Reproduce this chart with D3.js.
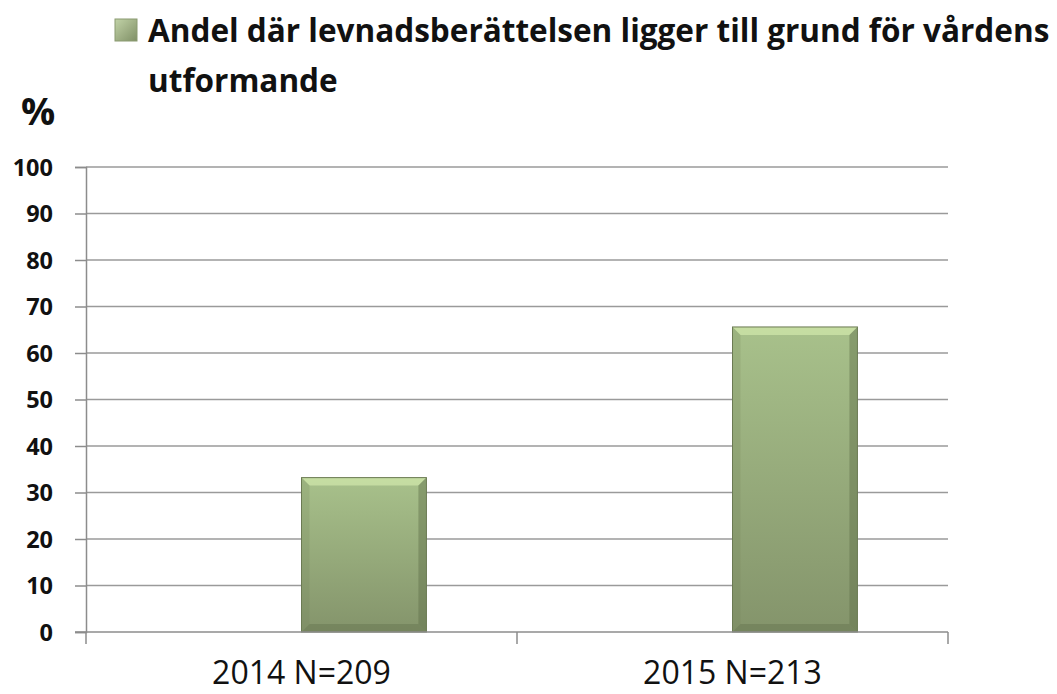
<!DOCTYPE html>
<html><head><meta charset="utf-8">
<script src="https://cdn.jsdelivr.net/npm/d3@7"></script>
<style>body{margin:0;background:#fff}svg{display:block}</style>
</head><body>
<svg id="c" width="1057" height="694"></svg>
<script>
const categories = ["2014 N=209", "2015 N=213"];
const values = [33.2, 65.6];
const seriesName = "Andel där levnadsberättelsen ligger till grund för vårdens utformande";
const legendLines = ["Andel där levnadsberättelsen ligger till grund för vårdens", "utformande"];
const yTicks = [0,10,20,30,40,50,60,70,80,90,100];
const yUnit = "%";

(function(){
const svg = d3.select("#c");
const mL = 86, mR = 948, mT = 167, mB = 632;

const x = d3.scaleBand().domain(categories).range([mL, mR]).padding(0);
const y = d3.scaleLinear().domain([0, 100]).range([mB, mT]);
// clustered slot: hidden first series + visible second series
const slot = d3.scaleBand().domain(["hidden", "shown"]).range([0, x.bandwidth()]).paddingInner(0).paddingOuter(0.725);

const defs = svg.append("defs");
const g1 = defs.append("linearGradient").attr("id","barg").attr("x1",0).attr("y1",0).attr("x2",0).attr("y2",1);
g1.append("stop").attr("offset","0%").attr("stop-color","#a8c18b");
g1.append("stop").attr("offset","100%").attr("stop-color","#84946b");
const g2 = defs.append("linearGradient").attr("id","legg").attr("x1",0).attr("y1",0).attr("x2",1).attr("y2",1);
g2.append("stop").attr("offset","0%").attr("stop-color","#c2d3a8");
g2.append("stop").attr("offset","100%").attr("stop-color","#7f8f66");

// grid
svg.append("g").selectAll("line").data(yTicks.filter(d=>d>0)).join("line")
  .attr("x1", mL).attr("x2", mR).attr("y1", d=>y(d)).attr("y2", d=>y(d))
  .attr("stroke", "#9a9a9a").attr("stroke-width", 1.5);

// y axis
const ya = svg.append("g").attr("transform", `translate(${mL},0)`)
  .call(d3.axisLeft(y).tickValues(yTicks).tickSize(11).tickPadding(22));
ya.select(".domain").attr("stroke", "#8c8c8c").attr("stroke-width", 1.5);
ya.selectAll(".tick line").attr("stroke", "#8c8c8c").attr("stroke-width", 1.5);
ya.selectAll(".tick text").attr("font-family", "'Open Sans', sans-serif").attr("font-weight", "bold")
  .attr("font-size", 23.5).attr("fill", "#111").attr("dy", "0.36em");

// bars
const bars = svg.append("g").selectAll("g").data(categories).join("g");
bars.each(function(c, i){
  const gx = x(c) + slot("shown"), w = slot.bandwidth();
  const yt = y(values[i]), h = y(0) - yt;
  const g = d3.select(this);
  g.append("rect").attr("x", gx).attr("y", yt).attr("width", w).attr("height", h).attr("fill", "url(#barg)");
  const b = 8;
  g.append("polygon").attr("points", `${gx},${yt} ${gx+w},${yt} ${gx+w-b},${yt+b} ${gx+b},${yt+b}`).attr("fill", "#cde4a8").attr("opacity", 0.8);
  g.append("polygon").attr("points", `${gx+w},${yt} ${gx+w},${yt+h} ${gx+w-b},${yt+h-b} ${gx+w-b},${yt+b}`).attr("fill", "#5f6e4a").attr("opacity", 0.45);
  g.append("polygon").attr("points", `${gx},${yt} ${gx+b},${yt+b} ${gx+b},${yt+h-b} ${gx},${yt+h}`).attr("fill", "#6f7f56").attr("opacity", 0.2);
  g.append("polygon").attr("points", `${gx},${yt+h} ${gx+b},${yt+h-b} ${gx+w-b},${yt+h-b} ${gx+w},${yt+h}`).attr("fill", "#5f6e4a").attr("opacity", 0.4);
  g.append("rect").attr("x", gx).attr("y", yt).attr("width", w).attr("height", h).attr("fill", "none").attr("stroke", "#6b7a53").attr("stroke-width", 1);
});

// x axis
const xa = svg.append("g").attr("transform", `translate(0,${mB})`);
xa.append("line").attr("x1", mL - 11).attr("x2", mR).attr("y1", 0).attr("y2", 0).attr("stroke", "#8c8c8c").attr("stroke-width", 1.5);
const xticks = [mL].concat(categories.map(c => x(c) + x.bandwidth()));
xa.selectAll(".xt").data(xticks).join("line").attr("class","xt")
  .attr("x1", d=>d).attr("x2", d=>d).attr("y1", 0).attr("y2", 12).attr("stroke", "#8c8c8c").attr("stroke-width", 1.5);
xa.selectAll("text").data(categories).join("text")
  .attr("x", d => x(d) + x.bandwidth()/2).attr("y", 52)
  .attr("text-anchor", "middle").attr("font-family", "'Open Sans', sans-serif")
  .attr("font-size", 32).attr("fill", "#111").text(d => d);

// unit label
svg.append("text").attr("x", 21).attr("y", 125).attr("font-family", "'Open Sans', sans-serif")
  .attr("font-weight", "bold").attr("font-size", 38).attr("fill", "#111").text(yUnit);

// legend
svg.append("rect").attr("x", 115).attr("y", 19).attr("width", 22).attr("height", 22)
  .attr("fill", "url(#legg)").attr("stroke", "#8a9a70").attr("stroke-width", 1);
const lt = svg.append("g").attr("font-family", "'Open Sans', sans-serif").attr("font-weight", "bold").attr("fill", "#111");
const l1 = lt.append("text").attr("x", 148).attr("y", 42).attr("font-size", 29).text(legendLines[0]);
const w1 = l1.node().getComputedTextLength();
const fs = 29 * 902 / w1;
l1.attr("font-size", fs);
lt.append("text").attr("x", 148).attr("y", 92).attr("font-size", fs).text(legendLines[1]);
})();
</script>
</body></html>
